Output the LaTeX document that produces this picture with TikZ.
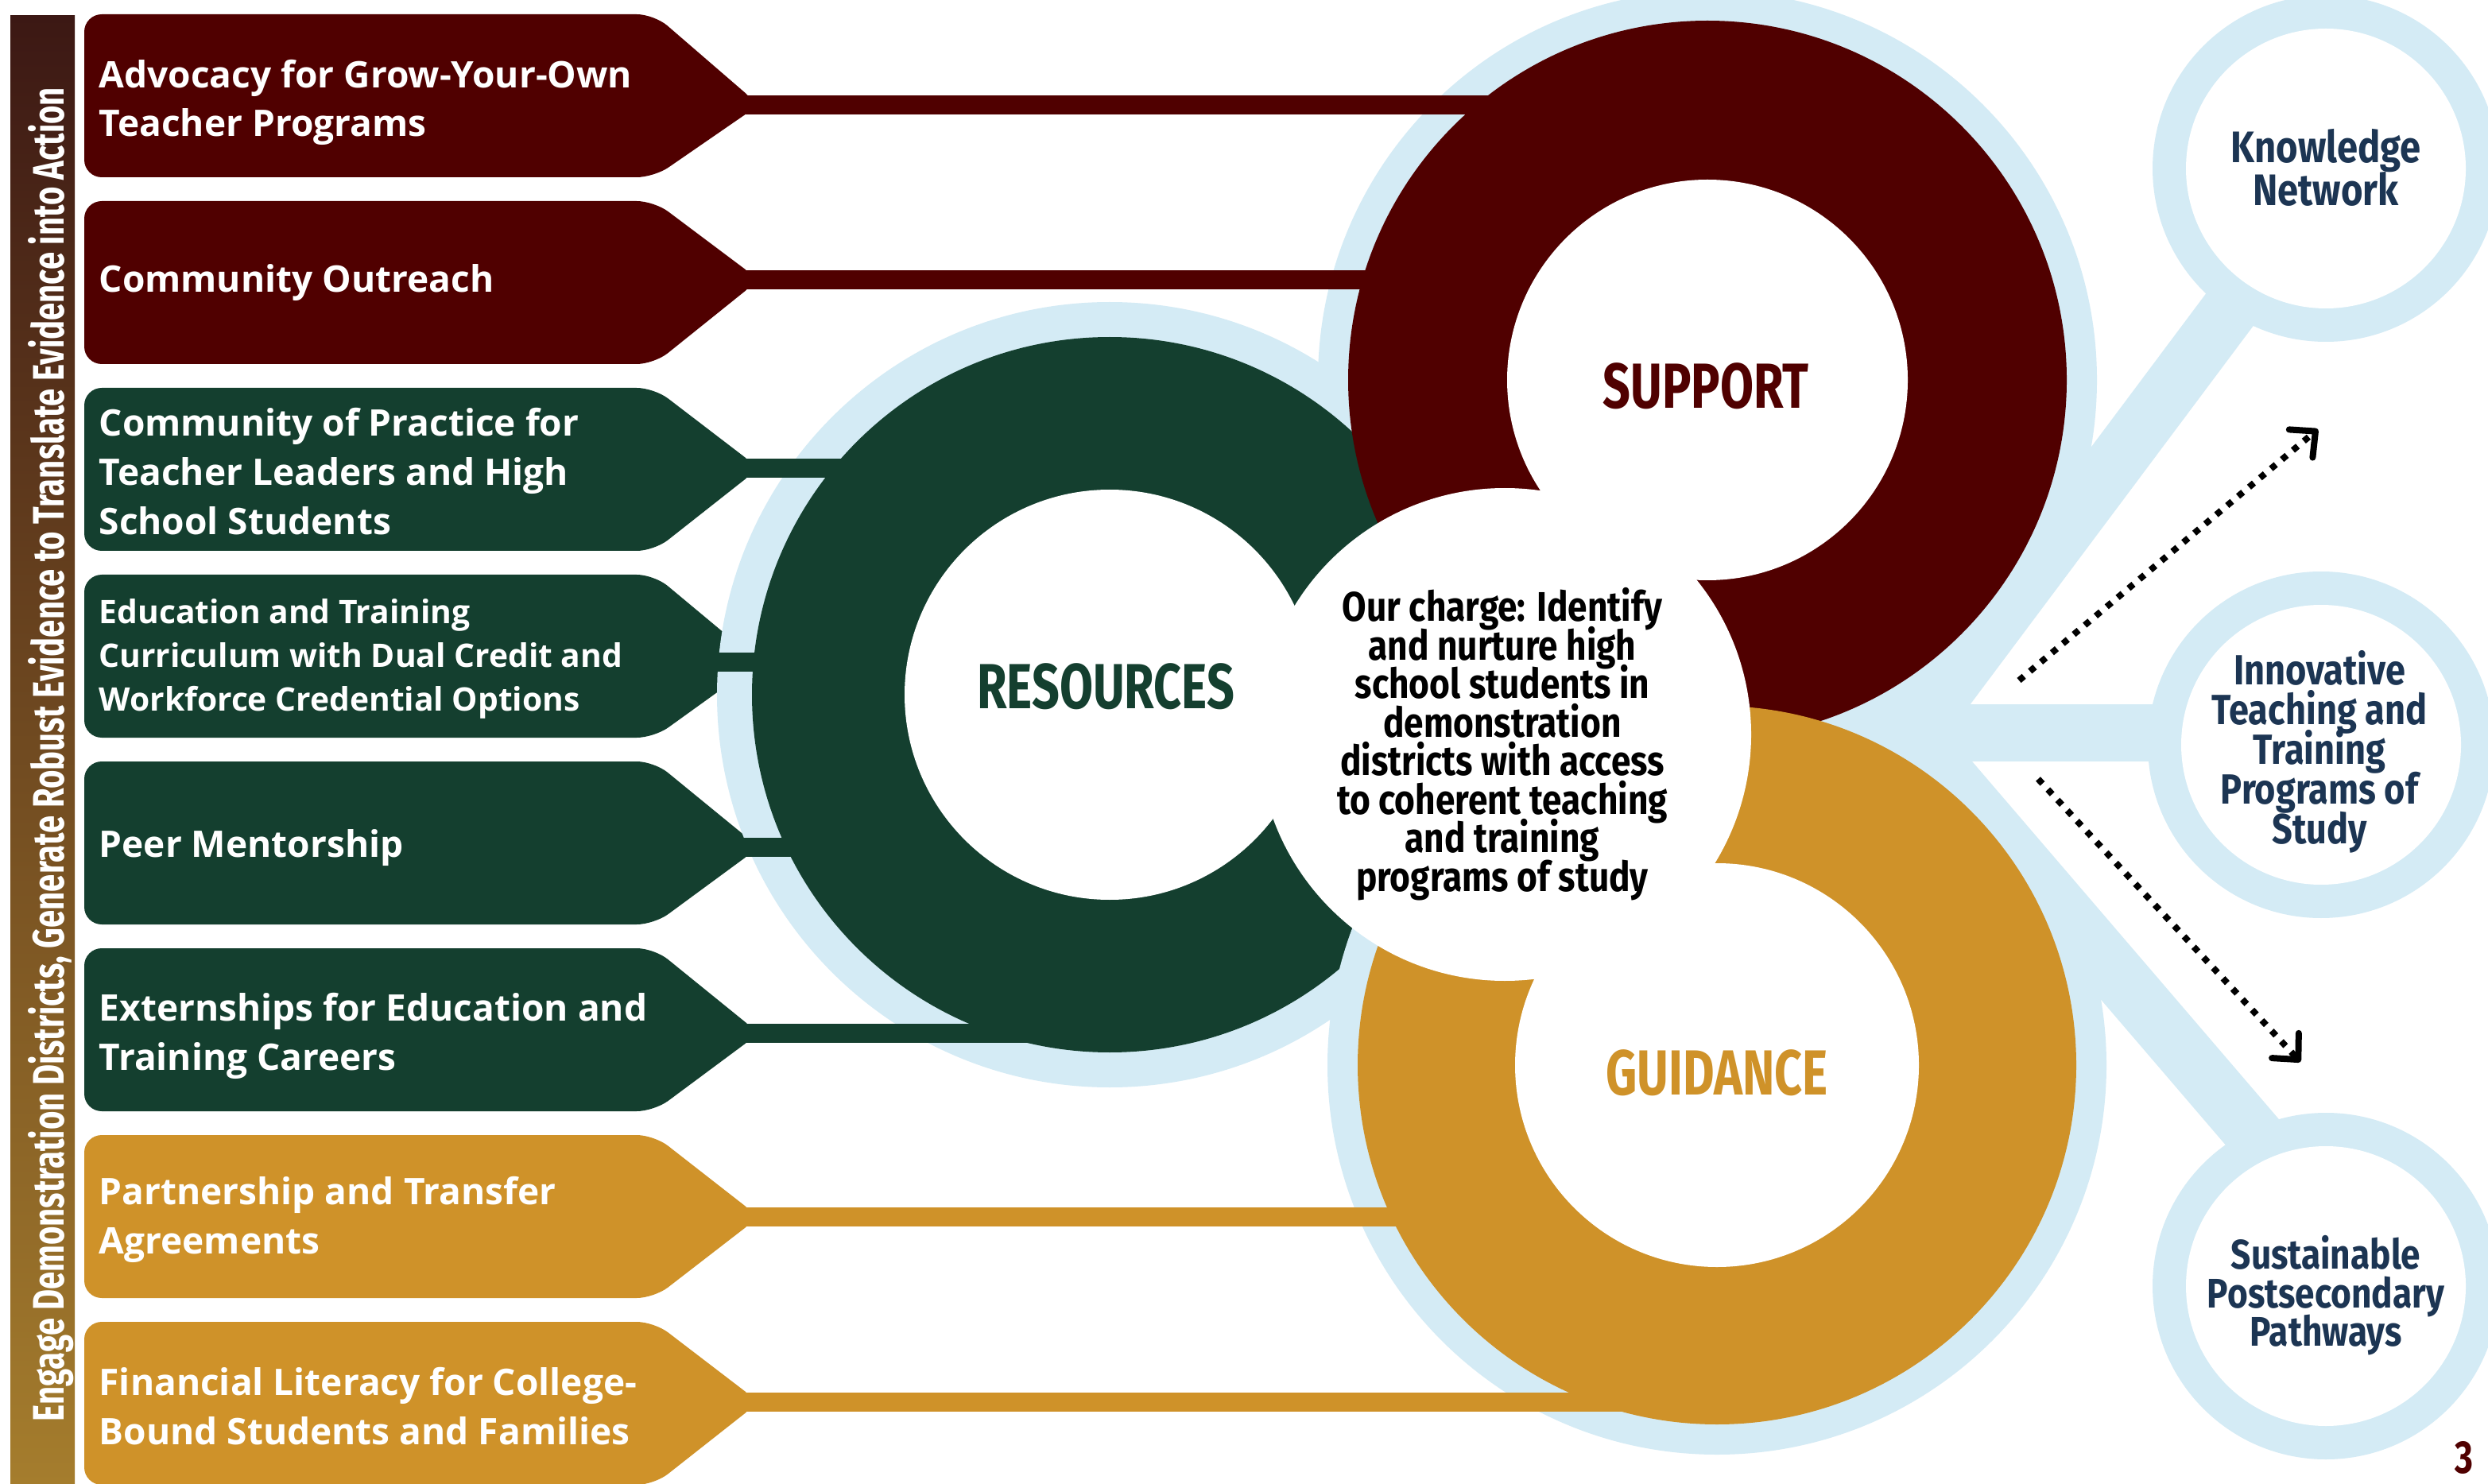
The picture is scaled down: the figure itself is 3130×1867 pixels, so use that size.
\documentclass[tikz,border=0pt]{standalone}
\usepackage{fontspec}
\usepackage{graphicx}
\usetikzlibrary{arrows.meta}
\newfontfamily\tagf{Open Sans}
\newfontfamily\osw{Fira Sans}[FakeStretch=0.76]
\newfontfamily\oswm{Fira Sans}[FakeStretch=0.85]
\newfontfamily\barf{Fira Sans}
\definecolor{cMar}{HTML}{500000}
\definecolor{cGrn}{HTML}{143F2F}
\definecolor{cGld}{HTML}{CF9229}
\definecolor{cBlue}{HTML}{D4EBF5}
\definecolor{cNavy}{HTML}{1C3553}
\definecolor{barTop}{HTML}{3C1814}
\definecolor{barMid}{HTML}{2E3A26}
\definecolor{barBot}{HTML}{A57D2D}
\newcommand{\tagpath}[4]{\fill[#1, rounded corners=2.2mm] (106,#2) -- (823,#2) -- (955,#4) -- (823,#3) -- (106,#3) -- cycle;}
\newcommand{\tightlines}{\lineskiplimit=-100pt\lineskip=0pt}
\begin{document}
\begin{tikzpicture}[x=0.1mm,y=-0.1mm,
  link/.style={line width=2.4mm},
  stem/.style={draw=cBlue, line width=7.2mm},
  tagtext/.style={text=white, font=\tagf\bfseries\fontsize{13.1}{17.6}\selectfont, align=left, anchor=west, inner sep=0pt},
  ringlabel/.style={font=\osw\bfseries\fontsize{22.8}{24}\selectfont, inner sep=0pt},
  goal/.style={text=cNavy, align=center, inner sep=0pt},
  dotarrow/.style={line width=0.8mm, dash pattern=on 0.8mm off 1mm, -{Straight Barb[round,length=2.4mm,width=4.6mm]}}
]
\useasboundingbox (0,0) rectangle (3130,1867);
\fill[white] (0,0) rectangle (3130,1867);
\clip (0,0) rectangle (3130,1867);

% centres
\coordinate (cG) at (1396,874);
\coordinate (cM) at (2148,478);
\coordinate (cY) at (2160,1340);
\coordinate (cC) at (1893,924);
\coordinate (kn) at (2926,212);
\coordinate (inn) at (2920,937);
\coordinate (sus) at (2926,1618);

% stems
\coordinate (s1a) at (2285,1085); \coordinate (s1b) at (2934,217);
\coordinate (s2a) at (2250,922);  \coordinate (s2b) at (2920,922);
\coordinate (s3a) at (2275,773);  \coordinate (s3b) at (2966,1579);
\draw[stem] (s1a) -- (s1b);
\draw[stem] (s2a) -- (s2b);
\draw[stem] (s3a) -- (s3b);

% right circles
\foreach \c in {kn,inn,sus}{
  \fill[cBlue] (\c) circle[radius=21.8mm];
  \fill[white] (\c) circle[radius=17.6mm];
}

% left bar
\shade[top color=barTop, middle color=barMid, bottom color=barBot] (13,20) rectangle (94,1867);
\node[rotate=90, anchor=base, inner sep=0pt, text=white] (bar) at (80,949)
  {\resizebox{167.8mm}{4.5mm}{\barf\bfseries Engage Demonstration Districts, Generate Robust Evidence to Translate Evidence into Action}};

% tags
\tagpath{cMar}{18}{223}{132}
\tagpath{cMar}{253}{458}{352}
\tagpath{cGrn}{488}{693}{589}
\tagpath{cGrn}{723}{928}{833}
\tagpath{cGrn}{958}{1163}{1066}
\tagpath{cGrn}{1193}{1398}{1300}
\tagpath{cGld}{1428}{1633}{1531}
\tagpath{cGld}{1663}{1868}{1764}

\coordinate (t1) at (900,132);
\coordinate (t2) at (900,352);
\coordinate (t3) at (900,589);
\coordinate (t4) at (900,833);
\coordinate (t5) at (900,1066);
\coordinate (t6) at (900,1300);
\coordinate (t7) at (900,1531);
\coordinate (t8) at (900,1764);

% halos
\fill[cBlue] (cG) circle[radius=49.4mm];
\fill[cBlue] (cM) circle[radius=49mm];
% links to support / resources
\draw[link, cMar] (t1) -- (t1 -| cM);
\draw[link, cMar] (t2) -- (t2 -| cM);
\draw[link, cGrn] (t3) -- (t3 -| cG);
\draw[link, cGrn] (t4) -- (t4 -| cG);
\draw[link, cGrn] (t5) -- (t5 -| cG);
\draw[link, cGrn] (t6) -- (t6 -| cG);
% rings
\fill[cGrn] (cG) circle[radius=45mm];
\fill[cBlue] (cY) circle[radius=49mm];
\draw[link, cGld] (t7) -- (t7 -| cY);
\draw[link, cGld] (t8) -- (t8 -| cY);
\fill[cMar] (cM) circle[radius=45.2mm];
\fill[cGld] (cY) circle[radius=45.2mm];
% white centres
\fill[white] (cG) circle[radius=25.8mm];
\fill[white] (cM) circle[radius=25.2mm];
\fill[white] (cY) circle[radius=25.4mm];
\fill[white] (cC) circle[radius=31mm];

% tag texts
\node[tagtext] (l1) at (124,129) {Advocacy for Grow-Your-Own\\Teacher Programs};
\node[tagtext] (l2) at (124,356) {Community Outreach};
\node[tagtext] (l3) at (124,593) {Community of Practice for\\Teacher Leaders and High\\School Students};
\node[tagtext, font=\tagf\bfseries\fontsize{11.6}{15.6}\selectfont] (l4) at (124,829) {Education and Training\\Curriculum with Dual Credit and\\Workforce Credential Options};
\node[tagtext] (l5) at (124,1067) {Peer Mentorship};
\node[tagtext] (l6) at (124,1303) {Externships for Education and\\Training Careers};
\node[tagtext] (l7) at (124,1534) {Partnership and Transfer\\Agreements};
\node[tagtext] (l8) at (124,1769) {Financial Literacy for College-\\Bound Students and Families};

% ring labels
\node[ringlabel, text=cGrn] (res) at (1391,864) {RESOURCES};
\node[ringlabel, text=cMar] (sup) at (2146,486) {SUPPORT};
\node[ringlabel, text=cGld] (gui) at (2160,1350) {GUIDANCE};

\node[align=center, inner sep=0pt, font=\oswm\bfseries\fontsize{14.8}{13.8}\selectfont\tightlines] (charge) at (1890,936)
 {Our charge: Identify\\and nurture high\\school students in\\demonstration\\districts with access\\to coherent teaching\\and training\\programs of study};

% goals
\node[goal, font=\oswm\bfseries\fontsize{15.8}{15.4}\selectfont\tightlines] (kt) at (2926,211) {Knowledge\\Network};
\node[goal, font=\oswm\bfseries\fontsize{15.1}{14.2}\selectfont\tightlines] (it) at (2918,946) {Innovative\\Teaching and\\Training\\Programs of\\Study};
\node[goal, font=\oswm\bfseries\fontsize{14.8}{13.8}\selectfont\tightlines] (st) at (2926,1630) {Sustainable\\Postsecondary\\Pathways};

% dotted arrows
\coordinate (a1s) at (2540,856); \coordinate (a1e) at (2916,540);
\coordinate (a2s) at (2564,980); \coordinate (a2e) at (2894,1336);
\draw[dotarrow] (a1s) -- (a1e);
\draw[dotarrow] (a2s) -- (a2e);

% page number
\node[text=cMar, inner sep=0pt, font=\osw\bfseries\fontsize{16.5}{16.5}\selectfont] (pg) at (3100,1834) {3};
\end{tikzpicture}
\end{document}
